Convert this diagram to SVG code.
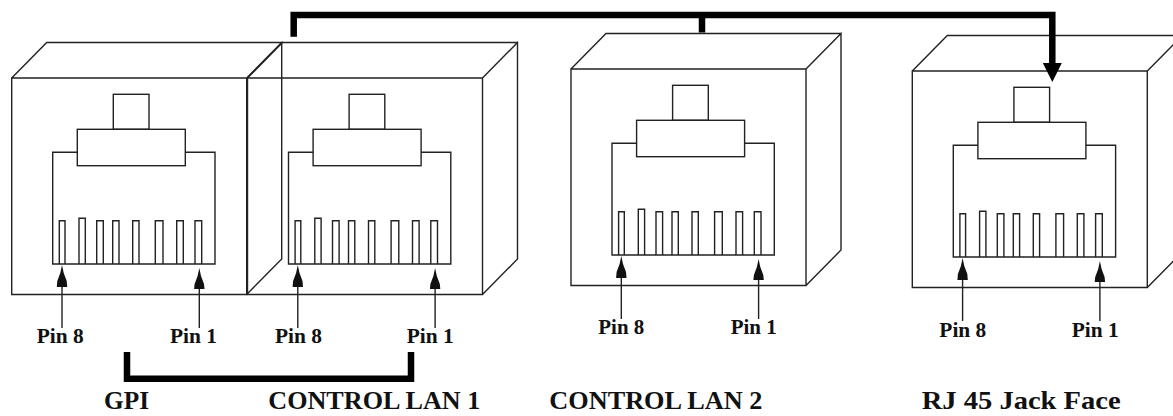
<svg xmlns="http://www.w3.org/2000/svg" xmlns:xlink="http://www.w3.org/1999/xlink" width="1173" height="416" viewBox="0 0 1173 416">
  <style>
    .ln { fill: none; stroke: #222; stroke-width: 1.4; stroke-linejoin: miter; }
    .ah { fill: #111; stroke: none; }
    .pin { font-family: 'Liberation Serif', 'DejaVu Serif', serif; font-weight: bold; font-size: 21px; fill: #111; }
    .cap { font-family: 'Liberation Serif', 'DejaVu Serif', serif; font-weight: bold; font-size: 26px; fill: #111; }
    .bus { fill: none; stroke: #000; stroke-width: 6.5; stroke-linejoin: miter; stroke-linecap: butt; }
  </style>
  <defs>
    <g id="jack">
      <path class="ln" d="M0,0 H235 V216.5 H0 Z M0,0 L35,-35.5 H270 M235,0 L270,-35.5 V181 L235,216.5"/>
      <rect class="ln" x="101.6" y="16.3" width="35.7" height="35"/>
      <rect class="ln" x="65.6" y="51.3" width="108" height="36.4"/>
      <path class="ln" d="M65.6,74.3 H41 V186 H203.3 V74.3 H173.6"/>
      <path class="ln" d="M47.6,186 V142.7 H53.3 V186 M67.3,186 V140.3 H73.6 V186 M85,186 V142.7 H91.6 V186 M101,186 V142.7 H107.3 V186 M121,186 V142.7 H127.3 V186 M143.6,186 V142.7 H151.3 V186 M165,186 V142.7 H171.6 V186 M183.3,186 V142.7 H190 V186"/>
      <path class="ln" d="M50.3,250 V195 M187.6,250 V196"/>
      <polygon class="ah" points="50.3,187 52,195 55,203 55.5,209 45.1,209 45.6,203 48.6,195"/>
      <polygon class="ah" points="187.6,190 189.3,198 192.3,206 192.8,211 182.4,211 182.9,206 185.9,198"/>
    </g>
  </defs>

  <g id="jack-gpi">
    <use xlink:href="#jack" transform="translate(11.7,78)"/>
    <text class="pin" x="36.7" y="343" font-family="Liberation Serif, serif" textLength="47" lengthAdjust="spacingAndGlyphs">Pin 8</text>
    <text class="pin" x="170" y="343" font-family="Liberation Serif, serif" textLength="47" lengthAdjust="spacingAndGlyphs">Pin 1</text>
    <text class="cap" x="104" y="409" font-family="Liberation Serif, serif" textLength="45" lengthAdjust="spacingAndGlyphs">GPI</text>
  </g>

  <g id="jack-lan1">
    <use xlink:href="#jack" transform="translate(247.5,78)"/>
    <text class="pin" x="275" y="343" textLength="47" lengthAdjust="spacingAndGlyphs">Pin 8</text>
    <text class="pin" x="406.7" y="343" textLength="47" lengthAdjust="spacingAndGlyphs">Pin 1</text>
    <text class="cap" x="268.3" y="409" textLength="212" lengthAdjust="spacingAndGlyphs">CONTROL LAN 1</text>
  </g>

  <g id="jack-lan2">
    <use xlink:href="#jack" transform="translate(571,69)"/>
    <text class="pin" x="598.3" y="333.5" textLength="46" lengthAdjust="spacingAndGlyphs">Pin 8</text>
    <text class="pin" x="730.7" y="333.5" textLength="46" lengthAdjust="spacingAndGlyphs">Pin 1</text>
    <text class="cap" x="549.3" y="409" textLength="213" lengthAdjust="spacingAndGlyphs">CONTROL LAN 2</text>
  </g>

  <g id="jack-face">
    <use xlink:href="#jack" transform="translate(912.3,71)"/>
    <text class="pin" x="939.3" y="336.7" textLength="47" lengthAdjust="spacingAndGlyphs">Pin 8</text>
    <text class="pin" x="1071.7" y="336.7" textLength="47" lengthAdjust="spacingAndGlyphs">Pin 1</text>
    <text class="cap" x="921.7" y="409" textLength="199" lengthAdjust="spacingAndGlyphs">RJ 45 Jack Face</text>
  </g>

  <g id="connectors">
    <path class="bus" d="M293.7,36.7 V15 H1052.3 V64"/>
    <path class="bus" d="M702,15 V32.5"/>
    <polygon fill="#000" points="1042.8,63 1061.8,63 1052.3,82"/>
    <path class="bus" d="M127,352 V378.7 H411 V352"/>
  </g>
</svg>
